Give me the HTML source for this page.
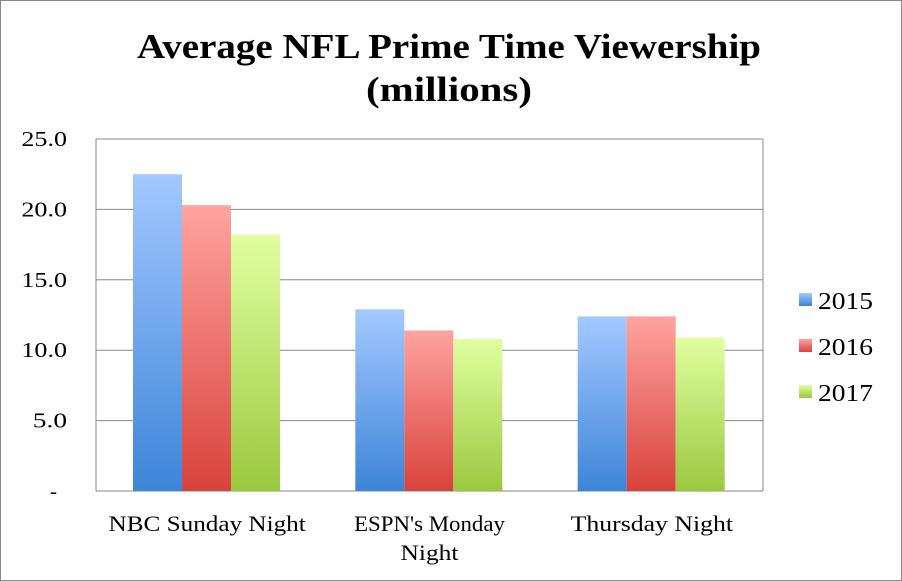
<!DOCTYPE html>
<html><head><meta charset="utf-8"><style>
html,body{margin:0;padding:0;background:#fff}
svg{display:block;font-family:"Liberation Serif",serif}
</style></head><body>
<svg id="chart" width="902" height="581" viewBox="0 0 902 581">
<defs>
<linearGradient id="g0" x1="0" y1="0" x2="0" y2="1"><stop offset="0" stop-color="#a4c8ff"/><stop offset="1" stop-color="#3d85d8"/></linearGradient>
<linearGradient id="g1" x1="0" y1="0" x2="0" y2="1"><stop offset="0" stop-color="#ffa3a0"/><stop offset="1" stop-color="#d8423d"/></linearGradient>
<linearGradient id="g2" x1="0" y1="0" x2="0" y2="1"><stop offset="0" stop-color="#e0ffa0"/><stop offset="1" stop-color="#9cc840"/></linearGradient>
</defs>
<rect x="0.5" y="0.5" width="901" height="580" fill="#fff" stroke="#888"/>
<text x="449" y="58" text-anchor="middle" font-size="35" font-weight="bold" textLength="624" lengthAdjust="spacingAndGlyphs">Average NFL Prime Time Viewership</text>
<text x="449" y="101" text-anchor="middle" font-size="35" font-weight="bold" textLength="166" lengthAdjust="spacingAndGlyphs">(millions)</text>
<g id="grid"></g><g id="bars"></g><g id="xl"></g><g id="legend"></g>
</svg>
<script>
const categories = [["NBC  Sunday Night"], ["ESPN's Monday", "Night"], ["Thursday Night"]];
const seriesNames = ["2015", "2016", "2017"];
const s2015 = [22.5, 12.9, 12.4];
const s2016 = [20.3, 11.4, 12.4];
const s2017 = [18.2, 10.8, 10.9];
const yTicks = [0, 5, 10, 15, 20, 25];
const yTickLabels = ["-", "5.0", "10.0", "15.0", "20.0", "25.0"];
const series = [s2015, s2016, s2017];
const NS = "http://www.w3.org/2000/svg";
const L = 96, R = 763, T = 139, B = 491, yMax = 25;
const y = v => B - v / yMax * (B - T);
const gw = (R - L) / categories.length;
const bw = 49, off = 37;
const x = (ci, si) => L + ci * gw + off + si * bw;
function mk(tag, attrs, parent) { const e = document.createElementNS(NS, tag); for (const k in attrs) e.setAttribute(k, attrs[k]); parent.appendChild(e); return e; }
const charW = 11.4;
const grid = document.getElementById('grid');
yTicks.forEach((t, i) => {
  const l = mk('line', {x1: L, x2: R, y1: y(t), y2: y(t), stroke: '#888', 'stroke-width': 1}, grid);
  
  
  const lab = yTickLabels[i];
  const attrs = {x: i === 0 ? 57 : 67, y: y(t) + 7, 'text-anchor': 'end', 'font-size': 21};
  if (lab.length > 1) { attrs.textLength = lab.length * charW; attrs.lengthAdjust = 'spacingAndGlyphs'; }
  const tx = mk('text', attrs, grid);
  tx.textContent = lab;
  
  
});
const axl = mk('line', {x1: L, x2: L, y1: T, y2: B, stroke: '#888'}, grid);


const axr = mk('line', {x1: R, x2: R, y1: T, y2: B, stroke: '#888'}, grid);


const bars = document.getElementById('bars');
series.forEach((s, si) => s.forEach((v, ci) => {
  const r = mk('rect', {x: x(ci, si), y: y(v), width: bw, height: B - y(v), fill: 'url(#g' + si + ')'}, bars);
  
  
}));
const xl = document.getElementById('xl');
categories.forEach((c, ci) => c.forEach((line, li) => {
  const t = mk('text', {x: L + (ci + 0.5) * gw, y: 531 + li * 29, 'text-anchor': 'middle', 'font-size': 22, textLength: line.length * 11.6, lengthAdjust: 'spacingAndGlyphs'}, xl);
  t.textContent = line;
  
  
}));
const lg = document.getElementById('legend');
seriesNames.forEach((n, i) => {
  const r = mk('rect', {x: 799, y: 293 + i * 46, width: 13, height: 13, fill: 'url(#g' + i + ')'}, lg);
  
  
  const t = mk('text', {x: 818, y: 309 + i * 46, 'font-size': 24, textLength: 55, lengthAdjust: 'spacingAndGlyphs'}, lg);
  t.textContent = n;
  
  
});
</script>
</body></html>
